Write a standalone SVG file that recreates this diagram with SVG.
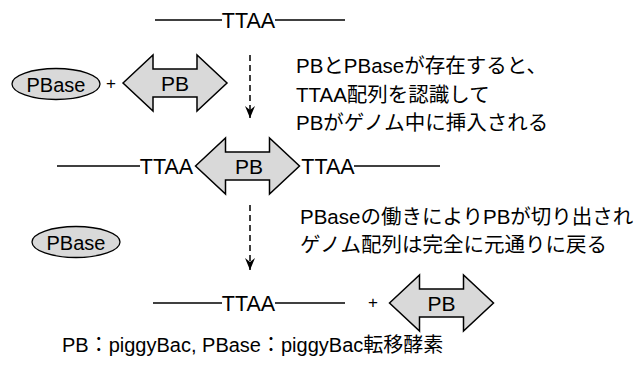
<svg xmlns="http://www.w3.org/2000/svg" width="636" height="374" viewBox="0 0 636 374">
  <style>
    .t { font-family: "Liberation Sans", "Noto Sans CJK JP", sans-serif; fill: #000; }
    .lbl { font-size: 21.5px; }
    .note { font-size: 20.5px; }
    .strand { stroke: #000; stroke-width: 1.6; fill: none; }
    .dbl { fill: #d9d9d9; stroke: #000; stroke-width: 1.5; stroke-linejoin: miter; }
    .oval { fill: #d9d9d9; stroke: #000; stroke-width: 1.3; }
    .flow { stroke: #000; stroke-width: 1.5; stroke-dasharray: 6 4; fill: none; }
  </style>
  <defs>
    <!-- double-headed block arrow for the PB element, centred on 0,0 -->
    <path id="pbShape" class="dbl" d="M-52,0 L-22,-28 L-22,-14 L22,-14 L22,-28 L52,0 L22,28 L22,14 L-22,14 L-22,28 Z"/>
    <marker id="head" viewBox="0 0 12 10" refX="12" refY="5" markerWidth="12" markerHeight="10" markerUnits="userSpaceOnUse" orient="auto">
      <path d="M0,0 L12,5 L0,10 L4,5 Z" fill="#000"/>
    </marker>
  </defs>

  <!-- genome before insertion -->
  <g id="genome-top">
    <line class="strand" x1="155" y1="20" x2="222" y2="20"/>
    <text class="t lbl" x="248.5" y="28" text-anchor="middle">TTAA</text>
    <line class="strand" x1="275" y1="20" x2="345" y2="20"/>
  </g>

  <g id="pbase-1">
    <ellipse class="oval" cx="56" cy="84" rx="44" ry="15.5"/>
    <text class="t" x="56" y="92" font-size="20" text-anchor="middle">PBase</text>
  </g>
  <text class="t" x="111" y="89" font-size="17" text-anchor="middle">+</text>
  <g id="pb-1">
    <use href="#pbShape" x="175" y="83"/>
    <text class="t" x="175" y="91" font-size="21" text-anchor="middle">PB</text>
  </g>

  <g id="note-1">
    <text class="t note" x="296" y="73">PBとPBaseが存在すると、</text>
    <text class="t note" x="296" y="102">TTAA配列を認識して</text>
    <text class="t note" x="296" y="130">PBがゲノム中に挿入される</text>
  </g>

  <!-- genome with PB inserted -->
  <g id="genome-mid">
    <line class="strand" x1="57" y1="166" x2="140" y2="166"/>
    <text class="t lbl" x="166.5" y="174" text-anchor="middle">TTAA</text>
    <text class="t lbl" x="328" y="174" text-anchor="middle">TTAA</text>
    <line class="strand" x1="354" y1="166" x2="440" y2="166"/>
  </g>
  <g id="pb-2">
    <use href="#pbShape" x="247.5" y="166"/>
    <text class="t" x="249" y="174" font-size="21" text-anchor="middle">PB</text>
  </g>

  <g id="pbase-2">
    <ellipse class="oval" cx="76" cy="242" rx="44" ry="15.5"/>
    <text class="t" x="76" y="250" font-size="20" text-anchor="middle">PBase</text>
  </g>

  <g id="note-2">
    <text class="t note" x="300" y="224">PBaseの働きによりPBが切り出され</text>
    <text class="t note" x="300" y="252">ゲノム配列は完全に元通りに戻る</text>
  </g>

  <!-- genome after excision -->
  <g id="genome-bottom">
    <line class="strand" x1="153" y1="303" x2="222" y2="303"/>
    <text class="t lbl" x="248.5" y="311" text-anchor="middle">TTAA</text>
    <line class="strand" x1="275" y1="303" x2="345" y2="303"/>
  </g>
  <text class="t" x="373" y="308" font-size="17" text-anchor="middle">+</text>
  <g id="pb-3">
    <use href="#pbShape" x="441.5" y="303"/>
    <text class="t" x="441.5" y="311" font-size="21" text-anchor="middle">PB</text>
  </g>

  <!-- process arrows -->
  <g id="connectors">
    <line class="flow" x1="250" y1="55" x2="250" y2="118" marker-end="url(#head)"/>
    <line class="flow" x1="250" y1="205" x2="250" y2="270" marker-end="url(#head)"/>
  </g>

  <text class="t" x="62" y="352" font-size="20">PB：piggyBac, PBase：piggyBac転移酵素</text>
</svg>
